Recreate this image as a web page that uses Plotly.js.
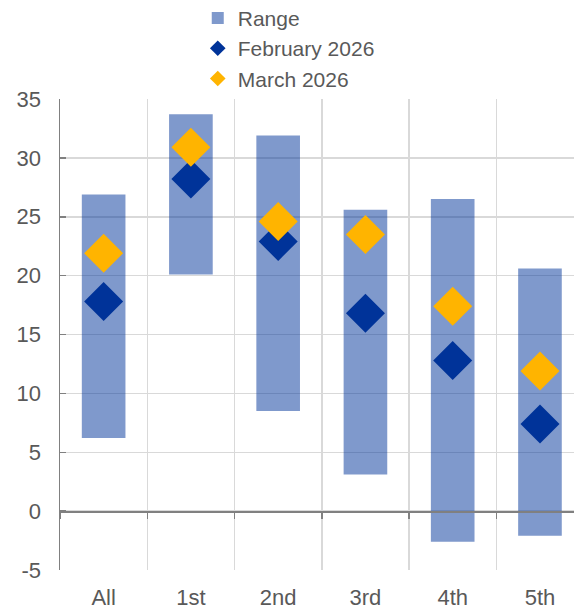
<!DOCTYPE html>
<html>
<head>
<meta charset="utf-8">
<script src="https://cdn.plot.ly/plotly-3.0.1.min.js"></script>
<style>
html,body{margin:0;padding:0;background:#fff;}
#chart{width:574px;height:609px;}
</style>
</head>
<body>
<div id="chart"></div>
<script>
const categories = ["All", "1st", "2nd", "3rd", "4th", "5th"];
const rangeLow  = [6.2, 20.1, 8.5, 3.1, -2.6, -2.1];
const rangeHigh = [26.9, 33.7, 31.9, 25.6, 26.5, 20.6];
const feb2026   = [17.8, 28.2, 22.9, 16.8, 12.8, 7.4];
const mar2026   = [21.9, 30.9, 24.6, 23.5, 17.4, 11.9];
const yTicks    = [-5, 0, 5, 10, 15, 20, 25, 30, 35];

const textColor = "#595959";
const fontFamily = "'Liberation Sans', Arial, sans-serif";

const traces = [
  {
    type: "bar",
    name: "Range",
    x: categories,
    base: rangeLow,
    y: rangeHigh.map((h, i) => h - rangeLow[i]),
    width: 0.5,
    marker: {color: "rgba(0,51,153,0.5)", line: {width: 0}},
    hoverinfo: "skip"
  },
  {
    type: "scatter",
    mode: "markers",
    name: "February 2026",
    x: categories,
    y: feb2026,
    xaxis: "x2",
    marker: {symbol: "diamond", size: 30, color: "#003399"}
  },
  {
    type: "scatter",
    mode: "markers",
    name: "March 2026",
    x: categories,
    y: mar2026,
    xaxis: "x2",
    marker: {symbol: "diamond", size: 30, color: "#FFB400"}
  }
];

const layout = {
  width: 574,
  height: 609,
  margin: {l: 60, r: 0, t: 99, b: 39, autoexpand: false},
  paper_bgcolor: "#ffffff",
  plot_bgcolor: "#ffffff",
  font: {family: fontFamily, size: 22, color: textColor},
  showlegend: true,
  legend: {
    x: 0.268, y: 1.215, xanchor: "left", yanchor: "top",
    font: {family: fontFamily, size: 21, color: textColor},
    itemsizing: "constant",
    tracegroupgap: 0,
    bgcolor: "rgba(0,0,0,0)"
  },
  xaxis: {
    type: "category",
    categoryorder: "array",
    categoryarray: categories,
    range: [-0.5, 5.39],
    showgrid: true,
    gridcolor: "#d9d9d9",
    gridwidth: 1.5,
    tickson: "boundaries",
    ticks: "",
    tickangle: 0,
    showline: false,
    zeroline: false,
    ticklabelstandoff: 12,
    tickfont: {family: fontFamily, size: 22, color: textColor}
  },
  xaxis2: {
    matches: "x",
    overlaying: "x",
    anchor: "free",
    position: 0.125,
    type: "category",
    categoryorder: "array",
    categoryarray: categories,
    showgrid: false,
    showline: true,
    linecolor: "#808080",
    linewidth: 1.5,
    ticks: "outside",
    tickson: "boundaries",
    ticklen: 6,
    tickwidth: 1.5,
    tickcolor: "#808080",
    showticklabels: false,
    zeroline: false
  },
  yaxis: {
    range: [-5, 35],
    tickvals: yTicks,
    ticktext: yTicks.map(String),
    showgrid: true,
    gridcolor: "#d9d9d9",
    gridwidth: 1.5,
    zeroline: false,
    showline: true,
    linecolor: "#808080",
    linewidth: 1.5,
    ticks: "inside",
    ticklen: 6,
    tickwidth: 1.5,
    tickcolor: "#808080",
    ticklabelstandoff: 13,
    tickfont: {family: fontFamily, size: 22, color: textColor}
  },
  bargap: 0.5
};

Plotly.newPlot("chart", traces, layout, {staticPlot: true, displayModeBar: false});
</script>
</body>
</html>
